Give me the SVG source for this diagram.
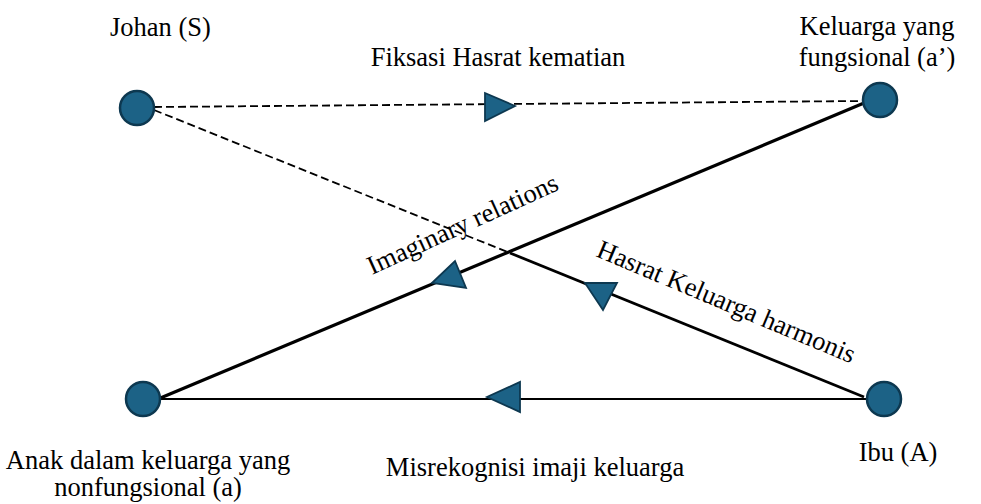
<svg xmlns="http://www.w3.org/2000/svg" width="981" height="504" viewBox="0 0 981 504">
<style>
.t{font-family:"Liberation Serif","Times New Roman",serif;font-size:26.5px;fill:#000}
.node{fill:#1c6286;stroke:#0d3850;stroke-width:2.5}
.tri{fill:#1c6286;stroke:#0d3850;stroke-width:1.8;stroke-linejoin:miter}
.dash{stroke:#000;stroke-width:1.8;stroke-dasharray:8 4;fill:none}
.solid{stroke:#000;fill:none}
</style>
<rect width="981" height="504" fill="#fff"/>
<g id="connectors">
<line class="dash" x1="154" y1="107" x2="863" y2="101"/>
<line class="dash" x1="154" y1="110" x2="510" y2="253"/>
<line class="solid" stroke-width="2.8" x1="510" y1="253" x2="864" y2="397"/>
<line class="solid" stroke-width="3.2" x1="158" y1="399" x2="864" y2="103"/>
<line class="solid" stroke-width="2.2" x1="160" y1="399" x2="867" y2="399"/>
<polygon class="tri" points="485,93 515,106 485,121"/>
<polygon class="tri" points="455,261 466,288 432,283"/>
<polygon class="tri" points="585,283 617,283 603,310"/>
<polygon class="tri" points="520,382 520,412 487,397"/>
</g>
<g id="johan">
<circle class="node" cx="137" cy="108" r="17"/>
<text class="t" x="110" y="36">Johan (S)</text>
</g>
<g id="keluarga-fungsional">
<circle class="node" cx="880" cy="100" r="17"/>
<text class="t" x="877" y="35" text-anchor="middle">Keluarga yang</text>
<text class="t" x="877" y="66" text-anchor="middle">fungsional (a’)</text>
</g>
<g id="anak">
<circle class="node" cx="143" cy="399" r="17"/>
<text class="t" x="148" y="469" text-anchor="middle">Anak dalam keluarga yang</text>
<text class="t" x="148" y="496" text-anchor="middle">nonfungsional (a)</text>
</g>
<g id="ibu">
<circle class="node" cx="884" cy="399" r="17"/>
<text class="t" x="898" y="461" text-anchor="middle">Ibu (A)</text>
</g>
<g id="labels">
<text class="t" x="498" y="66" text-anchor="middle">Fiksasi Hasrat kematian</text>
<text class="t" transform="translate(372,275) rotate(-24.5)">Imaginary relations</text>
<text class="t" transform="translate(595,256) rotate(22.8)">Hasrat Keluarga harmonis</text>
<text class="t" x="535" y="476" text-anchor="middle">Misrekognisi imaji keluarga</text>
</g>
</svg>
